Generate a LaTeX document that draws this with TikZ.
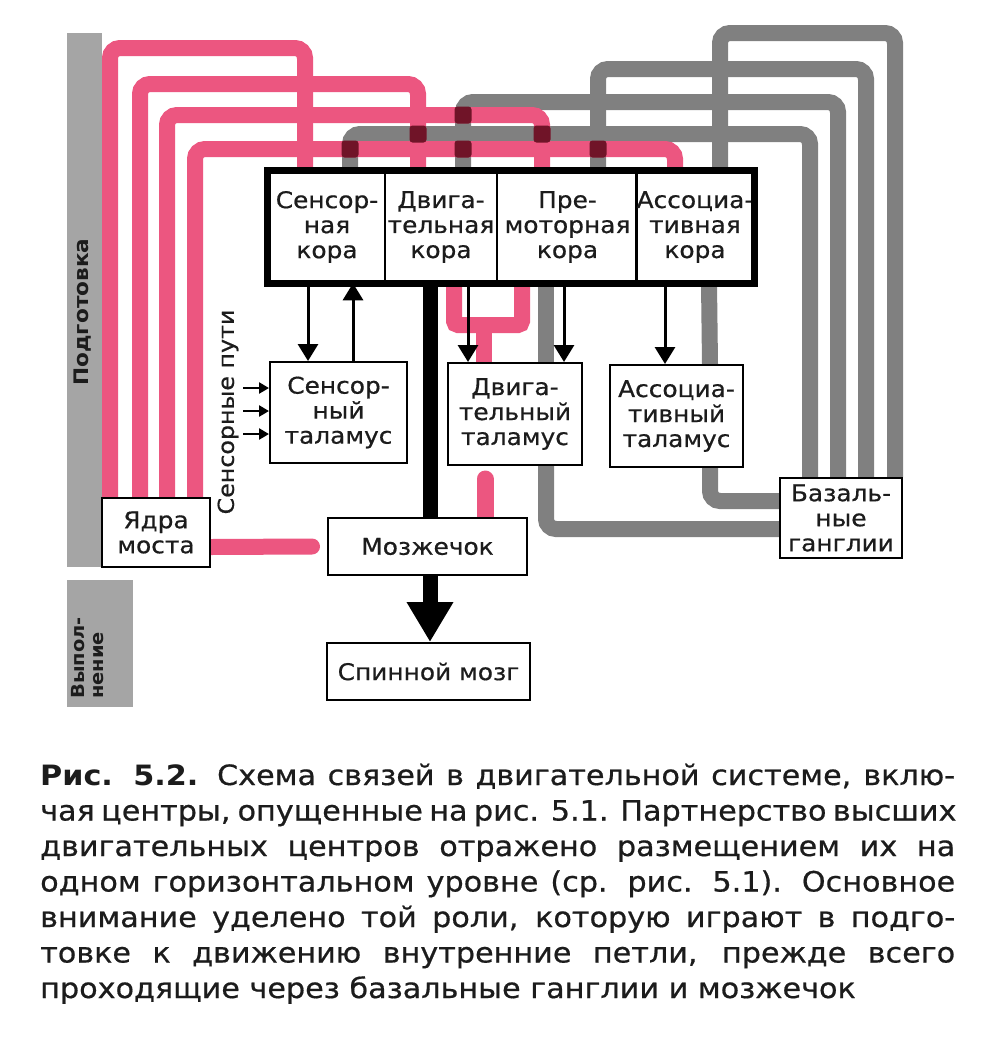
\documentclass[tikz,border=0pt]{standalone}
\usepackage{fontspec}
\setmainfont{DejaVu Sans}[FakeStretch=1.08, UprightFeatures={FakeBold=0.6}]
\usetikzlibrary{arrows.meta}
\definecolor{pinkc}{RGB}{236,86,128}
\definecolor{grayc}{RGB}{128,128,128}
\definecolor{darkr}{RGB}{112,20,40}
\definecolor{barc}{RGB}{165,165,165}
\definecolor{txt}{RGB}{28,28,28}
\pgfdeclarelayer{back}
\pgfsetlayers{back,main}
\begin{document}
\begin{tikzpicture}[x=1pt,y=-1pt,
  box/.style={draw=black, line width=2pt, fill=white, inner sep=0pt, align=center, text=txt, font=\fontsize{23}{25}\selectfont},
  ctx/.style={draw=black, line width=2.5pt, fill=white, inner sep=0pt, align=center, text=txt, minimum height=110pt, font=\fontsize{23}{25}\selectfont},
  pinkpath/.style={draw=pinkc, line width=16pt, rounded corners=10pt},
  graypath/.style={draw=grayc, line width=16pt, rounded corners=10pt},
  thinarrow/.style={draw=black, line width=3pt, -{Triangle[width=20pt,length=17pt]}},
  smallarrow/.style={draw=black, line width=2.5pt, -{Triangle[width=11pt,length=10pt]}},
  thickarrow/.style={draw=black, line width=15pt, -{Triangle[width=44pt,length=40pt]}},
  capline/.style={anchor=base west, inner sep=0pt, text=txt, font=\fontsize{28}{35.5}\selectfont},
  vlabel/.style={rotate=90, inner sep=0pt, text=txt}
]
\useasboundingbox (0,0) rectangle (1000,1061);

% cortex
\node[ctx, minimum width=116pt] (sc) at (327,227) {Сенсор-\\ная\\кора};
\node[ctx, minimum width=112pt] (mc) at (441,227) {Двига-\\тельная\\кора};
\node[ctx, minimum width=141pt] (pm) at (567.5,227) {Пре-\\моторная\\кора};
\node[ctx, minimum width=114pt] (ac) at (695,227) {Ассоциа-\\тивная\\кора};
\draw[line width=7pt] (sc.north west) rectangle (ac.south east);

% thalamus and others
\node[box, minimum width=137pt, minimum height=101pt] (st) at (338.5,412.5) {Сенсор-\\ный\\таламус};
\node[box, minimum width=134pt, minimum height=102pt] (mt) at (515,414) {Двига-\\тельный\\таламус};
\node[box, minimum width=133pt, minimum height=102pt] (at) at (676.5,416) {Ассоциа-\\тивный\\таламус};
\node[box, minimum width=122pt, minimum height=80pt] (bgang) at (841,518) {Базаль-\\ные\\ганглии};
\node[box, minimum width=108pt, minimum height=69pt] (ym) at (156,532.5) {Ядра\\моста};
\node[box, minimum width=199pt, minimum height=57pt] (cb) at (427.5,546.5) {Мозжечок};
\node[box, minimum width=203pt, minimum height=57pt] (spc) at (428.5,671.5) {Спинной мозг};

\begin{pgfonlayer}{back}
\fill[white] (0,0) rectangle (1000,1061);
% side bars
\fill[barc] (67,33) rectangle (102,567);
\fill[barc] (67,580) rectangle (133,707);
% gray loops to basal ganglia
\draw[graypath] ([xshift=54pt]bgang.north) -- (895,33) -- (720,33) -- ([xshift=25pt]ac.north);
\draw[graypath] ([xshift=25pt]bgang.north) -- (866,69) -- (598,69) -- ([xshift=30.5pt]pm.north);
\draw[graypath] ([xshift=-3pt]bgang.north) -- (838,102) -- (463,102) -- ([xshift=22pt]mc.north);
\draw[graypath] ([xshift=-31pt]bgang.north) -- (810,134) -- (350,134) -- ([xshift=23pt]sc.north);
% pink loops from pons
\draw[pinkpath] ([xshift=-46pt]ym.north) -- (110,48) -- (305,48) -- ([xshift=-22pt]sc.north);
\draw[pinkpath] ([xshift=-16pt]ym.north) -- (140,84) -- (418,84) -- ([xshift=-23pt]mc.north);
\draw[pinkpath] ([xshift=11pt]ym.north) -- (167,115) -- (542,115) -- ([xshift=-25.5pt]pm.north);
\draw[pinkpath] ([xshift=39pt]ym.north) -- (195,149) -- (675,149) -- ([xshift=-20pt]ac.north);
% crossings
\foreach \cx/\cy in {463/115, 463/149, 350/149, 598/149, 418/134, 542/134}
  \fill[darkr, rounded corners=3pt] (\cx,\cy) +(-8.5,-8.5) rectangle +(8.5,8.5);
% cortex to thalamus gray
\draw[graypath] ([xshift=-21.5pt]pm.south) -- ([xshift=31pt]mt.north);
\draw[graypath] ([xshift=14pt]ac.south) -- ([xshift=33.5pt]at.north);
% thalamus to basal ganglia gray
\draw[graypath] ([xshift=31pt]mt.south) -- (546,529) -- ([yshift=-11pt]bgang.west);
\draw[graypath] ([xshift=33.5pt]at.south) -- (710,501) -- ([yshift=17pt]bgang.west);
% pink Y from cortex to motor thalamus
\draw[pinkpath, rounded corners=4pt] ([xshift=13pt]mc.south) -- (454,325) -- (522,325) -- ([xshift=-45.5pt]pm.south);
\draw[pinkpath, rounded corners=0pt] (484,325) -- ([xshift=-31pt]mt.north);
% pink cerebellum to motor thalamus
\draw[pinkc, line width=17pt, line cap=round] ([xshift=57.5pt]cb.north) -- ([xshift=-30pt,yshift=-13pt]mt.south);
% pink pons to cerebellum
\draw[pinkc, line width=16pt, line cap=round] ([yshift=-14.5pt]ym.east) -- ([xshift=-15pt,yshift=0pt]cb.west);
% thick motor output
\draw[thickarrow] ([xshift=-11pt]mc.south) -- ([xshift=1.5pt]spc.north);
\end{pgfonlayer}

% thin black arrows
\draw[thinarrow] ([xshift=-19pt]sc.south) -- ([xshift=-30.5pt]st.north);
\draw[thinarrow] ([xshift=14.5pt]st.north) -- ([xshift=26pt]sc.south);
\draw[thinarrow] ([xshift=27pt]mc.south) -- ([xshift=-47pt]mt.north);
\draw[thinarrow] ([xshift=-3.5pt]pm.south) -- ([xshift=49pt]mt.north);
\draw[thinarrow] ([xshift=-30pt]ac.south) -- ([xshift=-11.5pt]at.north);

% sensory paths
\coordinate (sp1) at (243,388);
\coordinate (sp2) at (243,411);
\coordinate (sp3) at (243,434);
\draw[smallarrow] (sp1) -- (sp1 -| st.west);
\draw[smallarrow] (sp2) -- (sp2 -| st.west);
\draw[smallarrow] (sp3) -- (sp3 -| st.west);

% labels
\node[vlabel, font=\bfseries\fontsize{20}{22}\selectfont] (prep) at (83,312) {Подготовка};
\node[vlabel, font=\bfseries\fontsize{18}{19}\selectfont, align=left] (exec) at (88,658) {Выпол-\\нение};
\node[vlabel, font=\fontsize{22}{24}\selectfont] (spath) at (228,412) {Сенсорные пути};

% caption
\node[capline] (c1) at (40,785) {\makebox[915pt][s]{\textbf{Рис. 5.2.} Схема связей в двигательной системе, вклю-}};
\node[capline] (c2) at (40,820.5) {\makebox[915pt][s]{чая центры, опущенные на рис. 5.1. Партнерство высших}};
\node[capline] (c3) at (40,856) {\makebox[915pt][s]{двигательных центров отражено размещением их на}};
\node[capline] (c4) at (40,891.5) {\makebox[915pt][s]{одном горизонтальном уровне (ср. рис. 5.1). Основное}};
\node[capline] (c5) at (40,927) {\makebox[915pt][s]{внимание уделено той роли, которую играют в подго-}};
\node[capline] (c6) at (40,962.5) {\makebox[915pt][s]{товке к движению внутренние петли, прежде всего}};
\node[capline] (c7) at (40,998) {проходящие через базальные ганглии и мозжечок};
\end{tikzpicture}
\end{document}
